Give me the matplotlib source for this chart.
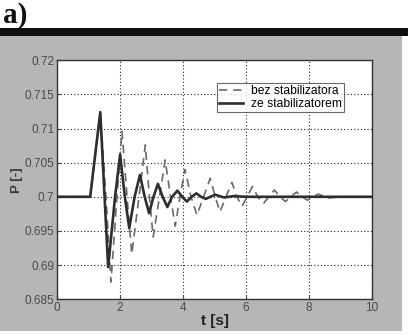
import matplotlib.pyplot as plt
from matplotlib.patches import Rectangle

# values (time in s, power in p.u.)
t_ze = [0, 1.05, 1.37, 1.62, 1.84, 2.00, 2.15, 2.29, 2.46, 2.63, 2.78, 2.92,
        3.06, 3.20, 3.35, 3.50, 3.65, 3.82, 3.97, 4.12, 4.27, 4.42, 4.57,
        4.72, 4.87, 5.02, 5.30, 5.60, 6.0, 7.0, 8.0, 9.0, 10.0]
p_ze = [0.7, 0.7, 0.7124, 0.6897, 0.7, 0.7062, 0.7, 0.6954, 0.7, 0.7032, 0.7,
        0.6976, 0.7, 0.7019, 0.7, 0.6985, 0.7, 0.7009, 0.7, 0.6993, 0.7,
        0.7005, 0.7, 0.6997, 0.7, 0.7003, 0.6999, 0.7001, 0.7, 0.7, 0.7,
        0.7, 0.7]

t_bez = [0, 1.05, 1.37, 1.55, 1.71, 1.90, 2.06, 2.22, 2.37, 2.60, 2.80, 2.93,
         3.05, 3.25, 3.43, 3.60, 3.75, 3.90, 4.06, 4.25, 4.44, 4.65, 4.86,
         5.02, 5.17, 5.36, 5.55, 5.71, 5.87, 6.03, 6.20, 6.37, 6.55, 6.72,
         6.90, 7.07, 7.25, 7.42, 7.60, 7.77, 7.95, 8.12, 8.30, 8.60, 9.0, 10.0]
p_bez = [0.7, 0.7, 0.7124, 0.7, 0.6875, 0.7, 0.7096, 0.7, 0.6916, 0.7, 0.7076,
         0.7, 0.6941, 0.7, 0.7054, 0.7, 0.6957, 0.7, 0.7040, 0.7, 0.6973, 0.7,
         0.7027, 0.7, 0.6978, 0.7, 0.7021, 0.7, 0.6986, 0.7, 0.7015, 0.7,
         0.6990, 0.7, 0.7010, 0.7, 0.6993, 0.7, 0.7007, 0.7, 0.6995, 0.7,
         0.7004, 0.6998, 0.7, 0.7]

x_ticks = [0, 2, 4, 6, 8, 10]
y_ticks = [0.685, 0.69, 0.695, 0.7, 0.705, 0.71, 0.715, 0.72]
y_labels = ['0.685', '0.69', '0.695', '0.7', '0.705', '0.71', '0.715', '0.72']

plt.rcParams['font.family'] = ['Liberation Sans', 'DejaVu Sans']

fig = plt.figure(figsize=(4.08, 3.35), dpi=100)
fig.patch.set_facecolor('white')

# grey figure window + black title bar
fig.patches.append(Rectangle((0.0, 0.012), 0.985, 0.881, transform=fig.transFigure,
                             facecolor='#b6b6b6', edgecolor='none', zorder=-5))
fig.patches.append(Rectangle((0.0, 0.893), 1.0, 0.022, transform=fig.transFigure,
                             facecolor='#111111', edgecolor='none', zorder=-5))
fig.text(0.008, 0.912, 'a)', family='Liberation Serif', fontweight='bold',
         fontsize=21, color='#111111', va='bottom', ha='left')

ax = fig.add_axes([0.14, 0.107, 0.772, 0.713])
ax.set_facecolor('white')

ax.plot(t_bez, p_bez, color='#6a6a6a', lw=1.2, dashes=(5, 3.5),
        label='bez stabilizatora')
ax.plot(t_ze, p_ze, color='#2e2e2e', lw=1.9, label='ze stabilizatorem')

ax.set_xlim(0, 10)
ax.set_ylim(0.685, 0.72)
ax.set_xticks(x_ticks)
ax.set_yticks(y_ticks)
ax.set_yticklabels(y_labels)
ax.tick_params(labelsize=8.5, colors='#4a4a4a', length=3, direction='in', pad=2)
ax.grid(True, color='#222222', linestyle=(0, (1, 2)), linewidth=0.8)
for s in ax.spines.values():
    s.set_color('#333333')
    s.set_linewidth(1.0)

ax.set_xlabel('t [s]', fontsize=11, fontweight='bold', color='#222222', labelpad=0)
ax.set_ylabel('P [-]', fontsize=9.5, fontweight='bold', color='#3a3a3a', labelpad=1)

leg = ax.legend(loc='upper right', bbox_to_anchor=(0.93, 0.93), fontsize=8.7,
                frameon=True, fancybox=False, handlelength=2.0,
                borderpad=0.2, labelspacing=0.05, handletextpad=0.6)
leg.get_frame().set_edgecolor('#444444')
leg.get_frame().set_linewidth(0.8)

plt.savefig('out.png', dpi=100)
